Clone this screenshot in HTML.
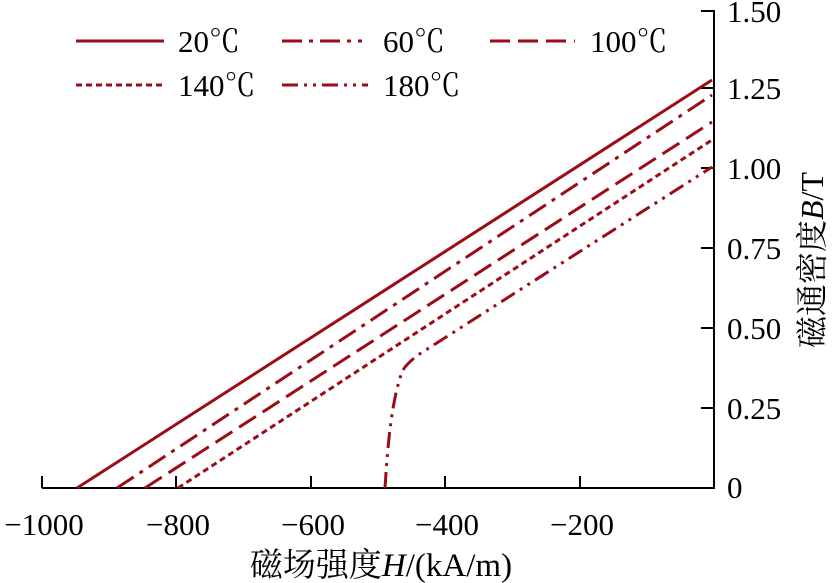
<!DOCTYPE html>
<html><head><meta charset="utf-8"><style>
html,body{margin:0;padding:0;background:#fff;}
svg{display:block;font-family:"Liberation Serif","Noto Serif CJK SC",serif;}
</style></head><body>
<svg width="838" height="583" viewBox="0 0 838 583" xmlns="http://www.w3.org/2000/svg">
<g stroke="#000" stroke-width="2" fill="none">
<line x1="42" y1="488" x2="715" y2="488"/>
<line x1="714" y1="10" x2="714" y2="489"/>
<line x1="42" y1="488" x2="42" y2="476"/>
<line x1="176" y1="488" x2="176" y2="476"/>
<line x1="311" y1="488" x2="311" y2="476"/>
<line x1="445" y1="488" x2="445" y2="476"/>
<line x1="580" y1="488" x2="580" y2="476"/>
<line x1="714" y1="408" x2="701" y2="408"/>
<line x1="714" y1="328" x2="701" y2="328"/>
<line x1="714" y1="248" x2="701" y2="248"/>
<line x1="714" y1="168" x2="701" y2="168"/>
<line x1="714" y1="88" x2="701" y2="88"/>
<line x1="714" y1="11" x2="701" y2="11"/>
</g>
<g font-size="31" fill="#000">
<text x="44" y="535" text-anchor="middle">−1000</text>
<text x="178" y="535" text-anchor="middle">−800</text>
<text x="313" y="535" text-anchor="middle">−600</text>
<text x="447" y="535" text-anchor="middle">−400</text>
<text x="582" y="535" text-anchor="middle">−200</text>
<text x="727" y="498">0</text>
<text x="727" y="419">0.25</text>
<text x="727" y="339">0.50</text>
<text x="727" y="259">0.75</text>
<text x="727" y="179">1.00</text>
<text x="727" y="99">1.25</text>
<text x="727" y="22">1.50</text>
<text x="381" y="576" text-anchor="middle" font-size="33">磁场强度<tspan font-style="italic">H</tspan>/(kA/m)</text>
<text transform="translate(823,260) rotate(-90)" text-anchor="middle" font-size="32">磁通密度<tspan font-style="italic">B</tspan>/T</text>
</g>
<g stroke="#9c0c18" stroke-width="3" fill="none">
<line x1="77" y1="488" x2="712" y2="80"/>
<line x1="117" y1="488" x2="712" y2="95" stroke-dasharray="20,7,4,7"/>
<line x1="145" y1="488" x2="712" y2="122" stroke-dasharray="20,8"/>
<line x1="178" y1="488" x2="712" y2="140" stroke-dasharray="6,4"/>
<path d="M385,488 C388,440 392,400 402,372 Q405,365 418,355 L712,167" stroke-dasharray="16,6,3,6,3,6"/>
<line x1="76" y1="41" x2="164" y2="41"/>
<line x1="282" y1="41" x2="362" y2="41" stroke-dasharray="20,7,4,7"/>
<line x1="490" y1="41" x2="575" y2="41" stroke-dasharray="20,8"/>
<line x1="76" y1="85" x2="162" y2="85" stroke-dasharray="6,4"/>
<line x1="282" y1="85" x2="368" y2="85" stroke-dasharray="16,6,3,6,3,6"/>
</g>
<g font-size="31" fill="#000">
<text x="178" y="52">20℃</text>
<text x="383" y="52">60℃</text>
<text x="590" y="52">100℃</text>
<text x="178" y="96">140℃</text>
<text x="383" y="96">180℃</text>
</g>
</svg>
</body></html>
